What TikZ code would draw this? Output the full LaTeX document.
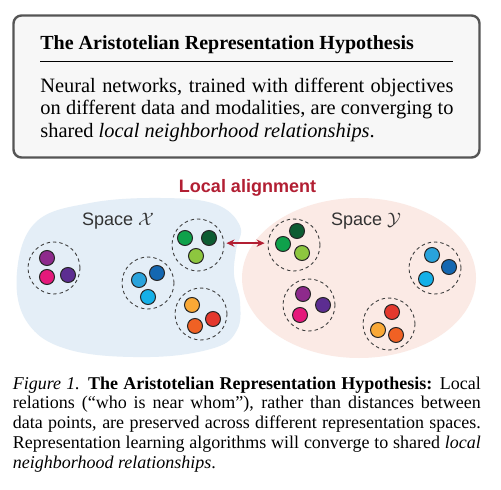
\documentclass[tikz,border=0pt]{standalone}
\usepackage{fontspec}
\setmainfont{Liberation Serif}
\newfontfamily\hsans{Liberation Sans}
\usetikzlibrary{arrows.meta}
\definecolor{boxline}{HTML}{555555}
\definecolor{boxfill}{HTML}{F7F7F7}
\definecolor{blobblue}{HTML}{E4EEF7}
\definecolor{blobpink}{HTML}{FBEAE5}
\definecolor{alignred}{HTML}{B21F33}
\definecolor{labelgray}{HTML}{333333}
\definecolor{cpurple}{HTML}{8E2A8C}
\definecolor{cmagenta}{HTML}{E5197B}
\definecolor{cdpurple}{HTML}{5C2D91}
\definecolor{cgreen}{HTML}{0FA14B}
\definecolor{cdgreen}{HTML}{0D5C32}
\definecolor{clgreen}{HTML}{8DC63F}
\definecolor{clblue}{HTML}{29A3DC}
\definecolor{cdblue}{HTML}{1467B1}
\definecolor{ccyan}{HTML}{14B0E8}
\definecolor{cyorange}{HTML}{F9A836}
\definecolor{cred}{HTML}{E4382D}
\definecolor{corange}{HTML}{F06124}
\tikzset{
  dot/.style={circle, draw=black!85, line width=0.5pt, minimum size=7.5pt, inner sep=0pt, fill=#1},
  grp/.style={circle, draw=black!75, line width=0.45pt, dash pattern=on 1.7pt off 1.5pt, minimum size=26pt, inner sep=0pt},
  spacelbl/.style={font=\hsans\fontsize{9}{10}\selectfont, text=labelgray, anchor=base, inner sep=0pt},
  alignarrow/.style={draw=alignred, line width=0.7pt, {Stealth[length=4pt,width=3.6pt]}-{Stealth[length=4pt,width=3.6pt]}, shorten <=1pt, shorten >=1.5pt}
}
\begin{document}
\begin{tikzpicture}[x=0.5pt,y=-0.5pt]
\useasboundingbox (0,0) rectangle (501,490);
\fill[white] (0,0) rectangle (501,490);

% top box
\draw[draw=boxline, fill=boxfill, line width=1.2pt, rounded corners=4pt] (13.5,15.5) rectangle (479.5,157.5);
\node[anchor=base west, inner sep=0pt, font=\fontsize{10}{12}\selectfont\bfseries] (title) at (40,50) {The Aristotelian Representation Hypothesis};
\coordinate (ruleL) at (40,62);
\coordinate (ruleR) at (453,62);
\draw[line width=0.5pt] (ruleL) -- (ruleR);
\node[anchor=base west, inner sep=0pt, text width=206.5pt, align=justify, font=\fontsize{10.2}{11.2}\selectfont] (body) at (40,92.3)
 {Neural networks, trained with different objectives\linebreak on different data and modalities, are converging to\linebreak shared \textit{local neighborhood relationships}.};

% blobs
\fill[blobblue] plot[smooth cycle, tension=0.65] coordinates {(17,272) (36,222) (90,203) (160,198) (215,204) (240,226) (236,250) (234,275) (240,302) (237,330) (214,348) (150,357) (70,350) (27,322)};
\fill[blobpink] (359,278) ellipse [x radius=117, y radius=80];

\node[font=\hsans\bfseries\fontsize{9}{10}\selectfont, text=alignred, anchor=base, inner sep=0pt] (localal) at (247.5,192.5) {Local alignment};
\node[spacelbl] (spx) at (118,226) {Space $\mathcal{X}$};
\node[spacelbl] (spy) at (366,226) {Space $\mathcal{Y}$};

% space X clusters
\node[grp] (gX1) at (54,268) {};
\node[dot=cpurple] (x1a) at (47,258) {};
\node[dot=cmagenta] (x1b) at (47,277) {};
\node[dot=cdpurple] (x1c) at (68,275) {};

\node[grp] (gX2) at (198,245) {};
\node[dot=cgreen] (x2a) at (185,238) {};
\node[dot=cdgreen] (x2b) at (209,238) {};
\node[dot=clgreen] (x2c) at (196,256) {};

\node[grp] (gX3) at (148,283) {};
\node[dot=clblue] (x3a) at (139,280) {};
\node[dot=cdblue] (x3b) at (157,273) {};
\node[dot=ccyan] (x3c) at (148,297) {};

\node[grp] (gX4) at (201,314) {};
\node[dot=cyorange] (x4a) at (192,305) {};
\node[dot=cred] (x4b) at (213,319) {};
\node[dot=corange] (x4c) at (195,326) {};

% space Y clusters
\node[grp] (gY1) at (294,245) {};
\node[dot=cdgreen] (y1a) at (297,231) {};
\node[dot=cgreen] (y1b) at (283,244) {};
\node[dot=clgreen] (y1c) at (302,253) {};

\node[grp] (gY2) at (309,305) {};
\node[dot=cpurple] (y2a) at (303,294) {};
\node[dot=cdpurple] (y2b) at (323,305) {};
\node[dot=cmagenta] (y2c) at (300,315) {};

\node[grp] (gY3) at (435,268) {};
\node[dot=clblue] (y3a) at (432,255) {};
\node[dot=cdblue] (y3b) at (449,267) {};
\node[dot=ccyan] (y3c) at (426,279) {};

\node[grp] (gY4) at (389,324) {};
\node[dot=cred] (y4a) at (392,312) {};
\node[dot=cyorange] (y4b) at (378,330) {};
\node[dot=corange] (y4c) at (396,335) {};

\draw[alignarrow] (gX2.4) -- (gY1.176);

% caption
\node[anchor=base west, inner sep=0pt, text width=234pt, align=justify, font=\fontsize{9}{9.9}\selectfont] (caption) at (12.5,389)
 {\textit{Figure 1.} \textbf{The Aristotelian Representation Hypothesis:} Local\linebreak relations (“who is near whom”), rather than distances between\linebreak data points, are preserved across different representation spaces.\linebreak Representation learning algorithms will converge to shared \textit{local}\linebreak \textit{neighborhood relationships}.};
\end{tikzpicture}
\end{document}
